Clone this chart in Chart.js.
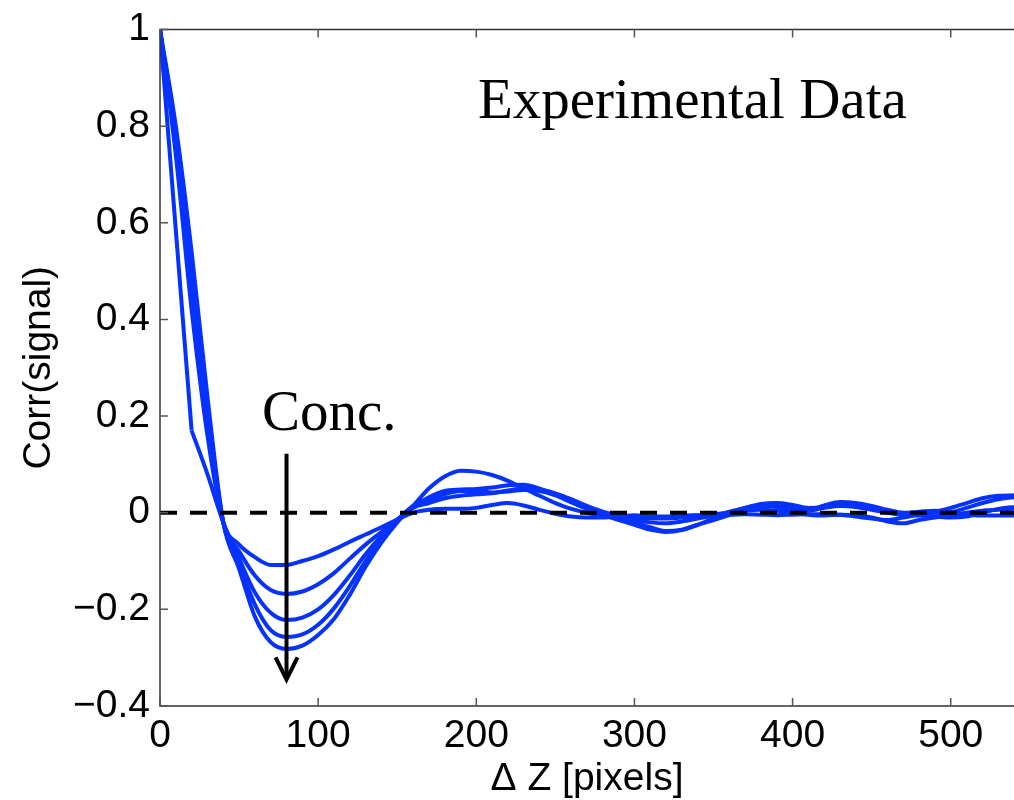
<!DOCTYPE html>
<html>
<head>
<meta charset="utf-8">
<script src="https://cdn.jsdelivr.net/npm/chart.js@4.4.1/dist/chart.umd.min.js"></script>
<style>
  html, body { margin: 0; padding: 0; background: #fff; }
</style>
</head>
<body>
<canvas id="corr" width="1014" height="800"></canvas>
<script>
// Delta Z lag (pixels)
const dz = [0, 10, 20, 30, 40, 50, 60, 70, 80, 90, 100, 110, 120, 130, 140, 150, 160, 170, 180, 190,
  200, 210, 220, 230, 240, 250, 260, 270, 280, 290, 300, 310, 320, 330, 340, 350, 360, 370, 380, 390,
  400, 410, 420, 430, 440, 450, 460, 470, 480, 490, 500, 510, 520, 530, 540];

// correlation curves, one per concentration (shallow -> deep minimum)
const corr1 = [1, 0.74, 0.42, 0.16, -0.02, -0.066, -0.092, -0.108, -0.108, -0.1,
  -0.09, -0.076, -0.06, -0.045, -0.03, -0.014, 0.0, 0.006, 0.008, 0.008,
  0.01, 0.016, 0.02, 0.015, 0.006, -0.002, -0.008, -0.01, -0.01, -0.008,
  -0.005, -0.008, -0.008, -0.006, -0.005, -0.004, -0.004, -0.003, -0.004, -0.005,
  -0.004, -0.003, -0.003, -0.004, -0.008, -0.012, -0.015, -0.01, -0.004, 0.0,
  -0.002, -0.004, -0.006, -0.006, -0.006];
const corr2 = [1, 0.76, 0.46, 0.19, -0.02, -0.08, -0.13, -0.16, -0.168, -0.163,
  -0.148, -0.125, -0.095, -0.066, -0.04, -0.014, 0.01, 0.02, 0.03, 0.035,
  0.038, 0.04, 0.046, 0.05, 0.048, 0.04, 0.028, 0.014, 0.002, -0.006,
  -0.01, -0.012, -0.012, -0.01, -0.006, -0.003, 0.0, 0.004, 0.006, 0.004,
  0.0, -0.004, -0.006, -0.004, -0.005, -0.01, -0.018, -0.022, -0.015, -0.01,
  -0.005, 0.0, 0.004, 0.006, 0.008];
// this one is coarser at small lags (no sample at 10)
const corr3 = [1, null, 0.17, 0.08, -0.02, -0.095, -0.165, -0.207, -0.222, -0.217,
  -0.2, -0.17, -0.13, -0.086, -0.048, -0.015, 0.014, 0.025, 0.038, 0.045,
  0.045, 0.042, 0.044, 0.047, 0.045, 0.036, 0.022, 0.01, 0.0, -0.008,
  -0.015, -0.02, -0.022, -0.018, -0.012, -0.006, 0.002, 0.01, 0.015, 0.012,
  0.006, 0.004, 0.01, 0.014, 0.012, 0.006, 0.0, -0.005, -0.006, -0.008,
  -0.01, -0.008, 0.0, 0.008, 0.012];
const corr4 = [1, 0.78, 0.5, 0.22, -0.02, -0.105, -0.19, -0.243, -0.257, -0.252,
  -0.232, -0.198, -0.152, -0.1, -0.055, -0.018, 0.012, 0.032, 0.045, 0.048,
  0.049, 0.052, 0.057, 0.058, 0.05, 0.038, 0.022, 0.008, -0.005, -0.015,
  -0.025, -0.035, -0.04, -0.036, -0.025, -0.015, -0.005, 0.005, 0.012, 0.015,
  0.01, 0.006, 0.015, 0.022, 0.02, 0.014, 0.006, 0.0, 0.002, 0.004,
  0.002, 0.01, 0.02, 0.028, 0.032];
const corr5 = [1, 0.8, 0.54, 0.24, -0.02, -0.116, -0.215, -0.268, -0.282, -0.275,
  -0.253, -0.22, -0.17, -0.112, -0.062, -0.02, 0.014, 0.05, 0.075, 0.087,
  0.085, 0.078, 0.066, 0.05, 0.035, 0.02, 0.008, 0.0, -0.006, -0.012,
  -0.02, -0.03, -0.038, -0.035, -0.025, -0.012, 0.0, 0.01, 0.018, 0.02,
  0.016, 0.01, 0.012, 0.018, 0.016, 0.01, 0.003, -0.003, -0.004, 0.002,
  0.01, 0.02, 0.03, 0.035, 0.036];

const xTicks = [0, 100, 200, 300, 400, 500];
const yTicks = [-0.4, -0.2, 0, 0.2, 0.4, 0.6, 0.8, 1];
const xRange = [0, 540];
const zeroLine = [0, 0];

// annotation anchors, in data units
const arrowX = 80, arrowFrom = 0.122, arrowTo = -0.345;

const BLUE = 'rgb(5, 50, 255)';
const AXIS = '#333';
const sans = '"Liberation Sans", Arial, Helvetica, sans-serif';
const serif = '"Liberation Serif", "Times New Roman", serif';

function pts(ys) {
  return dz.map((x, i) => ({ x: x, y: ys[i] })).filter(p => p.y !== null);
}

function blueSet(data, label, tension) {
  const ds = {
    label: label,
    data: data,
    borderColor: BLUE,
    borderWidth: 4,
    pointRadius: 0,
    order: 2
  };
  if (tension === 0) ds.tension = 0;
  else ds.cubicInterpolationMode = 'monotone';
  return ds;
}

function fmtY(v) {
  let r = Math.round(v * 10) / 10;
  if (r === 0) return '0';
  return (r < 0 ? '\u2212' : '') + String(Math.abs(r));
}

// corr3: straight first leg up to lag 20, smooth afterwards
const c3pts = pts(corr3);
const c3head = c3pts.filter(p => p.x <= 20);
const c3tail = c3pts.filter(p => p.x >= 20);

// axes frame with MATLAB-like inward ticks, arrow and labels
const overlay = {
  id: 'overlay',
  afterDatasetsDraw(chart) {
    const ctx = chart.ctx;
    const a = chart.chartArea;
    const xs = chart.scales.x, ys = chart.scales.y;
    ctx.save();

    // frame (no right side: the figure is cut there)
    ctx.strokeStyle = AXIS;
    ctx.lineWidth = 1.5;
    ctx.beginPath();
    ctx.moveTo(a.right + 2, a.top);
    ctx.lineTo(a.left, a.top);
    ctx.lineTo(a.left, a.bottom);
    ctx.lineTo(a.right + 2, a.bottom);
    ctx.stroke();

    ctx.strokeStyle = '#555';
    ctx.beginPath();
    xTicks.forEach(v => {
      const px = xs.getPixelForValue(v);
      ctx.moveTo(px, a.bottom); ctx.lineTo(px, a.bottom - 8);
      ctx.moveTo(px, a.top); ctx.lineTo(px, a.top + 8);
    });
    yTicks.forEach(v => {
      const py = ys.getPixelForValue(v);
      ctx.moveTo(a.left, py); ctx.lineTo(a.left + 8, py);
    });
    ctx.stroke();

    // concentration arrow
    const ax = xs.getPixelForValue(arrowX);
    const ay0 = ys.getPixelForValue(arrowFrom);
    const ay1 = ys.getPixelForValue(arrowTo);
    ctx.strokeStyle = '#000';
    ctx.lineWidth = 4;
    ctx.beginPath();
    ctx.moveTo(ax, ay0);
    ctx.lineTo(ax, ay1 - 2);
    ctx.stroke();
    ctx.lineJoin = 'miter';
    ctx.beginPath();
    ctx.moveTo(ax - 11, ay1 - 22);
    ctx.lineTo(ax, ay1);
    ctx.lineTo(ax + 11, ay1 - 22);
    ctx.stroke();

    ctx.fillStyle = '#000';
    ctx.textAlign = 'left';
    ctx.textBaseline = 'alphabetic';
    ctx.font = '57px ' + serif;
    ctx.fillText('Conc.', xs.getPixelForValue(64.5), ys.getPixelForValue(0.172));
    ctx.fillText('Experimental Data', xs.getPixelForValue(201), ys.getPixelForValue(0.816));
    ctx.restore();
  }
};

new Chart(document.getElementById('corr'), {
  type: 'line',
  data: {
    datasets: [
      {
        label: 'zero',
        data: xRange.map((x, i) => ({ x: x, y: zeroLine[i] })),
        borderColor: '#000',
        borderWidth: 4,
        borderDash: [17, 13],
        pointRadius: 0,
        order: 1
      },
      blueSet(pts(corr1), 'c1'),
      blueSet(pts(corr2), 'c2'),
      blueSet(c3head, 'c3', 0),
      blueSet(c3tail, 'c3'),
      blueSet(pts(corr4), 'c4'),
      blueSet(pts(corr5), 'c5')
    ]
  },
  options: {
    responsive: false,
    animation: false,
    devicePixelRatio: 1,
    layout: { padding: { top: 23, left: 0, right: 0, bottom: 0 } },
    plugins: { legend: { display: false }, tooltip: { enabled: false } },
    scales: {
      x: {
        type: 'linear',
        min: xRange[0],
        max: xRange[1],
        afterBuildTicks: s => { s.ticks = xTicks.map(v => ({ value: v })); },
        afterFit: s => { s.height = 94; },
        grid: { display: false, drawTicks: false },
        border: { display: false },
        ticks: {
          color: '#000',
          padding: 11,
          maxRotation: 0,
          autoSkip: false,
          font: { family: sans, size: 39, lineHeight: 1 },
          callback: v => String(v)
        },
        title: {
          display: true,
          text: '\u0394 Z [pixels]',
          color: '#000',
          padding: { top: 0, bottom: 1 },
          font: { family: sans, size: 39, lineHeight: 1 }
        }
      },
      y: {
        min: yTicks[0],
        max: yTicks[yTicks.length - 1],
        afterBuildTicks: s => { s.ticks = yTicks.map(v => ({ value: v })); },
        afterFit: s => { s.width = 160; },
        grid: { display: false, drawTicks: false },
        border: { display: false },
        ticks: {
          color: '#000',
          padding: 10,
          autoSkip: false,
          font: { family: sans, size: 39, lineHeight: 1 },
          callback: v => fmtY(v)
        },
        title: {
          display: true,
          text: 'Corr(signal)',
          color: '#000',
          padding: { top: 20, bottom: 0 },
          font: { family: sans, size: 39, lineHeight: 1 }
        }
      }
    }
  },
  plugins: [overlay]
});
</script>
</body>
</html>
